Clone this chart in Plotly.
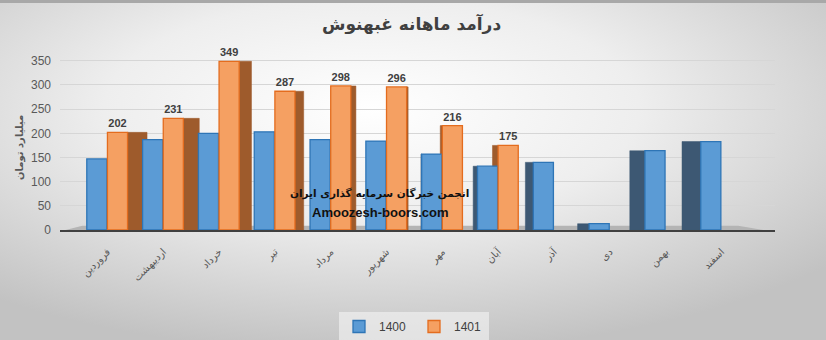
import base64
import plotly.graph_objects as go

# ---------------- data ----------------
months = ["فروردین", "اردیبهشت", "خرداد", "تیر", "مرداد", "شهریور",
          "مهر", "آبان", "آذر", "دی", "بهمن", "اسفند"]
values_1400 = [147, 187, 200, 203, 187, 184, 157, 132, 140, 13, 164, 183]
values_1401 = [202, 231, 349, 287, 298, 296, 216, 175, None, None, None, None]
series_names = ["1400", "1401"]

title_text = "درآمد ماهانه غبهنوش"
y_title = "میلیارد تومان"
watermark_1 = "انجمن خبرگان سرمایه گذاری ایران"
watermark_2 = "Amoozesh-boors.com"

# ---------------- style ----------------
BLUE_FACE = "#5B9BD5"
BLUE_LINE = "#2E75B6"
BLUE_SIDE = "#3D5873"
ORANGE_FACE = "#F5A062"
ORANGE_LINE = "#E46C1E"
ORANGE_SIDE = "#9E5B2C"
FRONT_W = 0.36
BLUE_OFF = -0.37
ORANGE_OFF = 0.0
VP = 5.6        # perspective vanishing position (category units)
K = 0.0645      # depth per category unit of distance

x = list(range(len(months)))


def side_geometry(offset, vals):
    offs, widths = [], []
    for i, v in enumerate(vals):
        c = i + offset + FRONT_W / 2
        d = K * (VP - c)
        if d >= 0:
            offs.append(offset + FRONT_W)
            widths.append(max(d, 0.004))
        else:
            offs.append(offset + d)
            widths.append(-d)
    return offs, widths


fig = go.Figure()

# side faces (drawn first, behind the fronts)
for name, vals, off, col in [(series_names[0], values_1400, BLUE_OFF, BLUE_SIDE),
                             (series_names[1], values_1401, ORANGE_OFF, ORANGE_SIDE)]:
    offs, widths = side_geometry(off, vals)
    fig.add_trace(go.Bar(
        x=x, y=vals, offset=offs, width=widths,
        marker=dict(color=col, line=dict(color=col, width=0.5)),
        showlegend=False, hoverinfo="skip", name=name + " side",
    ))

# front faces
fig.add_trace(go.Bar(
    x=x, y=values_1400, name=series_names[0], offset=BLUE_OFF, width=FRONT_W,
    marker=dict(color=BLUE_FACE, line=dict(color=BLUE_LINE, width=1.3)),
))
fig.add_trace(go.Bar(
    x=x, y=values_1401, name=series_names[1], offset=ORANGE_OFF, width=FRONT_W,
    marker=dict(color=ORANGE_FACE, line=dict(color=ORANGE_LINE, width=1.3)),
    text=[("%d" % v) if v is not None else "" for v in values_1401],
    texttemplate="<b>%{text}</b>", textposition="outside",
    textfont=dict(family="Liberation Sans", size=11, color="#404040"),
    cliponaxis=False,
))

# background gradient
svg = ('<svg xmlns="http://www.w3.org/2000/svg" width="826" height="340">'
       '<defs><radialGradient id="g" cx="0.45" cy="0.32" r="0.72">'
       '<stop offset="0" stop-color="#ffffff"/>'
       '<stop offset="0.45" stop-color="#eeeeee"/>'
       '<stop offset="1" stop-color="#c2c2c2"/>'
       '</radialGradient></defs>'
       '<rect width="826" height="340" fill="url(#g)"/>'
       '<rect width="826" height="3" fill="#a8a8a8"/></svg>')
src = "data:image/svg+xml;base64," + base64.b64encode(svg.encode()).decode()

L, R, T, B = 60, 51, 55, 110
PW = 826 - L - R
PH = 340 - T - B

fig.update_layout(
    width=826, height=340,
    margin=dict(l=L, r=R, t=T, b=B, autoexpand=False),
    barmode="overlay",
    paper_bgcolor="#e4e4e4",
    plot_bgcolor="rgba(0,0,0,0)",
    images=[dict(source=src, xref="paper", yref="paper",
                 x=-L / PW, y=1 + T / PH, sizex=826 / PW, sizey=340 / PH,
                 xanchor="left", yanchor="top", sizing="stretch", layer="below")],
    xaxis=dict(
        range=[-0.85, 11.96], tickmode="array", tickvals=x, ticktext=months,
        tickangle=-45, showgrid=False, zeroline=False, automargin=False,
        showline=True, linecolor="#404040", linewidth=2,
        tickfont=dict(family="DejaVu Sans", size=10, color="#595959"),
        ticks="", ticklabelstandoff=10,
    ),
    yaxis=dict(
        range=[0, 362], tickvals=[0, 50, 100, 150, 200, 250, 300, 350],
        gridcolor="#d6d6d6", gridwidth=1, zeroline=False, showline=False,
        automargin=False,
        tickfont=dict(family="Liberation Sans", size=12, color="#595959"),
        ticklabelstandoff=8,
    ),
    legend=dict(
        orientation="h", x=(414 - L) / PW, xanchor="center",
        y=(230 - 312) / PH, yanchor="top",
        entrywidth=30, entrywidthmode="pixels", itemwidth=30,
        font=dict(family="Liberation Sans", size=12, color="#404040"),
        bgcolor="rgba(245,245,245,0.6)", traceorder="normal",
    ),
    shapes=[dict(type="path", xref="x", yref="y", layer="below",
                 path="M -0.75,0 L 11.75,0 L 11.3,9 L -0.45,9 Z",
                 fillcolor="#b4b4b4", line=dict(width=0))],
    annotations=[
        dict(text="<b>" + title_text + "</b>", xref="paper", yref="paper",
             x=(411 - L) / PW, y=(230 - 24) / PH, xanchor="center", yanchor="middle",
             showarrow=False, font=dict(family="DejaVu Sans", size=17, color="#404040")),
        dict(text="<b>" + y_title + "</b>", xref="paper", yref="paper",
             x=(20 - L) / PW, y=(230 - 148) / PH, textangle=-90,
             xanchor="center", yanchor="middle", showarrow=False,
             font=dict(family="DejaVu Sans", size=10, color="#595959")),
        dict(text="<b>" + watermark_1 + "</b>", xref="paper", yref="paper",
             x=(379 - L) / PW, y=(230 - 193) / PH, xanchor="center", yanchor="middle",
             showarrow=False, font=dict(family="DejaVu Sans", size=10.5, color="#111111")),
        dict(text="<b>" + watermark_2 + "</b>", xref="paper", yref="paper",
             x=(380 - L) / PW, y=(230 - 212) / PH, xanchor="center", yanchor="middle",
             showarrow=False, font=dict(family="Liberation Sans", size=13, color="#111111")),
    ],
)

fig.write_html("out.html")
